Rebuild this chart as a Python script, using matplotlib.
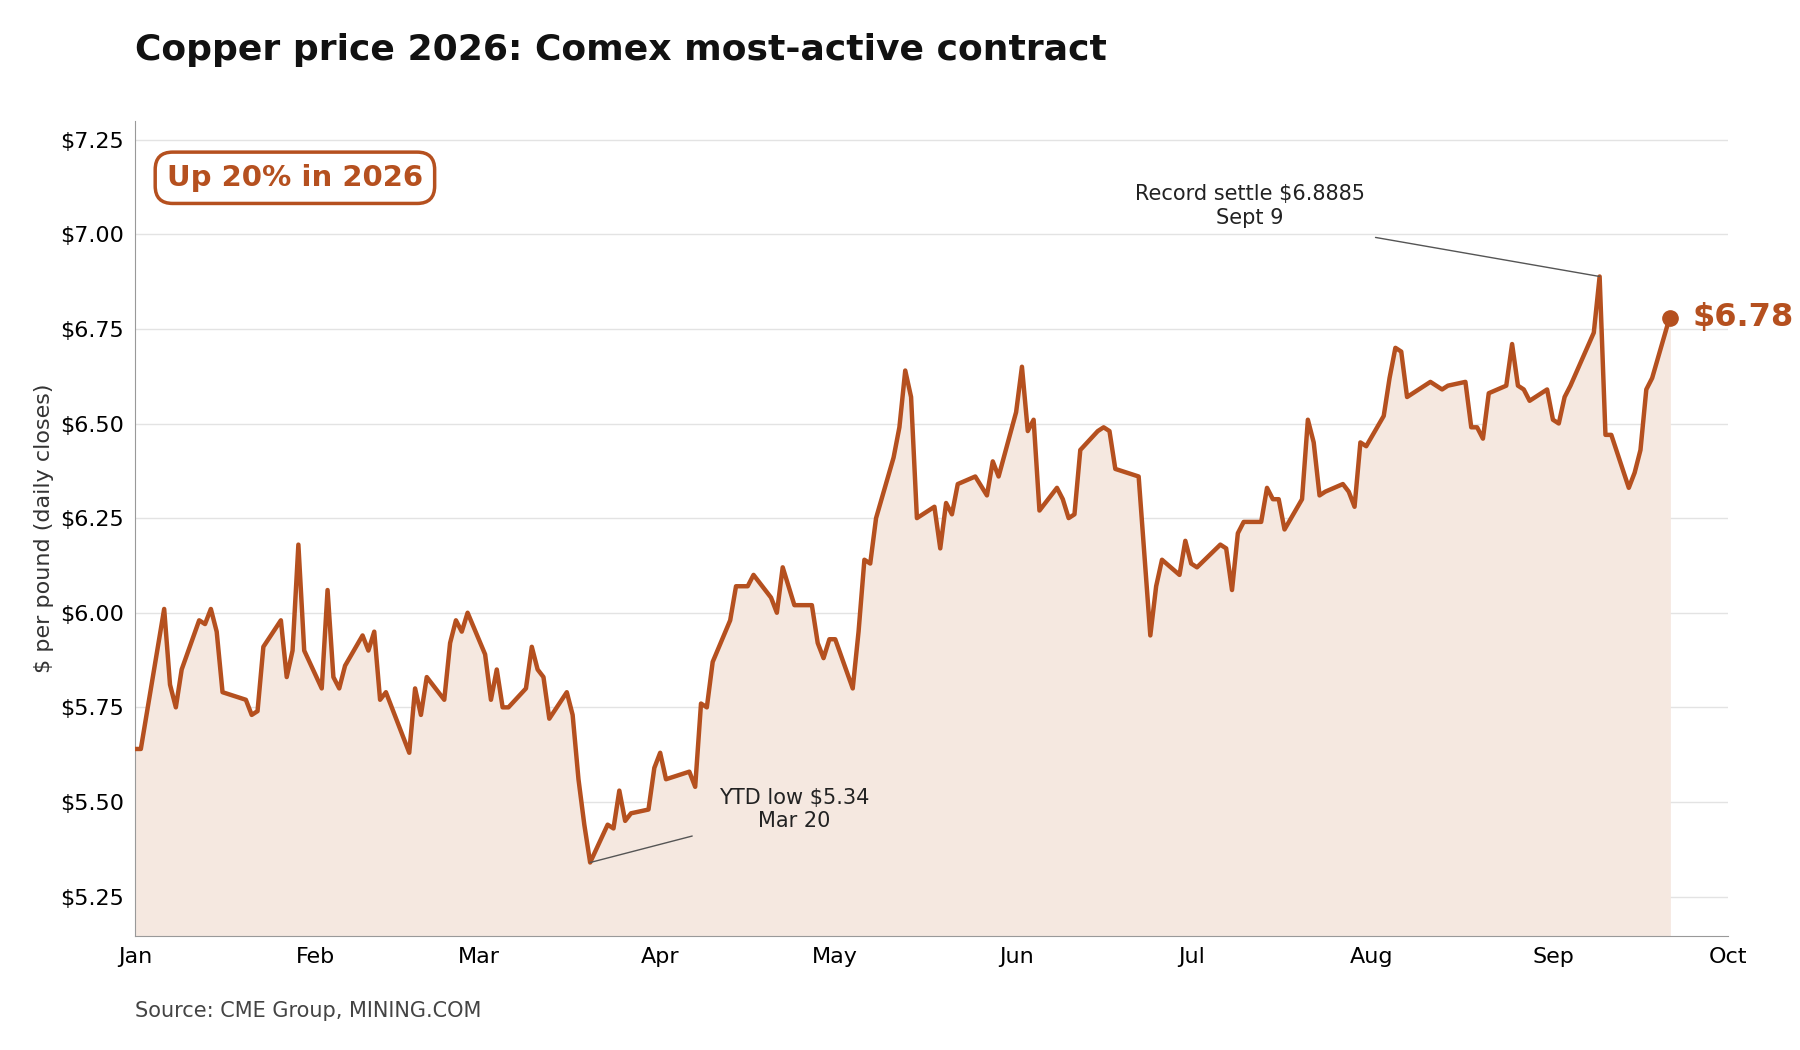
import numpy as np
import matplotlib
matplotlib.use("Agg")
import matplotlib.pyplot as plt
import matplotlib.dates as mdates

day_offsets = [0,1,5,6,7,8,11,12,13,14,15,19,20,21,22,25,26,27,28,29,32,33,34,35,36,39,40,41,42,43,
               47,48,49,50,53,54,55,56,57,60,61,62,63,64,67,68,69,70,71,74,75,76,77,78,81,82,83,84,85,
               88,89,90,91,95,96,97,98,99,102,103,105,106,109,110,111,112,113,116,117,118,119,120,123,
               124,125,126,127,130,131,132,133,134,137,138,139,140,141,144,146,147,148,151,152,153,154,
               155,158,159,160,161,162,165,166,167,168,172,174,175,176,179,180,181,182,186,187,188,189,
               190,193,194,195,196,197,200,201,202,203,204,207,208,209,210,211,214,215,216,217,218,221,
               222,223,224,225,228,229,230,231,232,235,236,237,238,239,242,243,244,245,246,250,251,252,
               253,256,257,258,259,260,263]
prices = [5.64,5.64,6.01,5.81,5.75,5.85,5.98,5.97,6.01,5.95,5.79,5.77,5.73,5.74,5.91,5.98,5.83,5.90,6.18,5.90,
          5.80,6.06,5.83,5.80,5.86,5.94,5.90,5.95,5.77,5.79,
          5.63,5.80,5.73,5.83,5.77,5.92,5.98,5.95,6.00,5.89,5.77,5.85,5.75,5.75,5.80,5.91,5.85,5.83,5.72,5.79,
          5.73,5.56,5.44,5.34,5.44,5.43,5.53,5.45,5.47,
          5.48,5.59,5.63,5.56,5.58,5.54,5.76,5.75,5.87,5.98,6.07,6.07,6.10,6.04,6.00,6.12,6.07,6.02,6.02,5.92,
          5.88,5.93,5.93,5.80,
          5.95,6.14,6.13,6.25,6.41,6.49,6.64,6.57,6.25,6.28,6.17,6.29,6.26,6.34,6.36,6.31,6.40,6.36,6.53,6.65,
          6.48,6.51,
          6.27,6.33,6.30,6.25,6.26,6.43,6.48,6.49,6.48,6.38,6.36,5.94,6.07,6.14,6.10,6.19,6.13,6.12,6.18,6.17,
          6.06,6.21,
          6.24,6.24,6.33,6.30,6.30,6.22,6.30,6.51,6.45,6.31,6.32,6.34,6.32,6.28,6.45,6.44,6.52,6.62,6.70,6.69,
          6.57,6.60,
          6.61,6.60,6.59,6.60,6.61,6.49,6.49,6.46,6.58,6.60,6.71,6.60,6.59,6.56,6.59,6.51,6.50,6.57,6.60,6.74,
          6.8885,6.47,
          6.47,6.33,6.37,6.43,6.59,6.62,6.78]
month_labels = ["Jan","Feb","Mar","Apr","May","Jun","Jul","Aug","Sep","Oct"]

base = np.datetime64("2026-01-01")
dates = (base + np.array(day_offsets, dtype="timedelta64[D]")).astype("datetime64[ms]").astype(object)

C = "#B5501F"
fig = plt.figure(figsize=(18, 10.5), dpi=100)
ax = fig.add_axes([0.075, 0.109, 0.885, 0.776])
ax.fill_between(dates, prices, 5.0, color="#F5E8E0", zorder=1)
ax.plot(dates, prices, color=C, lw=3.2, zorder=3)
ax.plot(dates[-1], prices[-1], "o", color=C, ms=11, zorder=4, clip_on=False)
ax.text(dates[-1] + np.timedelta64(4, "D").astype(object), prices[-1], "$6.78", color=C,
        fontsize=23, fontweight="bold", va="center", ha="left", clip_on=False)

months = [np.datetime64(f"2026-{m:02d}-01").astype("datetime64[ms]").astype(object) for m in range(1, 11)]
ax.set_xticks(months)
ax.set_xticklabels(month_labels)
ax.set_xlim(months[0], months[-1])
ax.set_ylim(5.147, 7.30)
ax.set_yticks([5.25, 5.5, 5.75, 6.0, 6.25, 6.5, 6.75, 7.0, 7.25])
ax.yaxis.set_major_formatter(plt.FuncFormatter(lambda v, p: f"${v:.2f}"))
ax.tick_params(labelsize=16, length=0, pad=8)
ax.grid(axis="y", color="#e3e3e3", lw=1)
ax.set_axisbelow(True)
for s in ["top", "right"]:
    ax.spines[s].set_visible(False)
for s in ["left", "bottom"]:
    ax.spines[s].set_color("#999999")
ax.set_ylabel("$ per pound (daily closes)", fontsize=16, color="#333333")

i_low = int(np.argmin(prices))
ax.annotate("YTD low $5.34\nMar 20", xy=(dates[i_low], prices[i_low]),
            xytext=(np.datetime64("2026-04-24").astype("datetime64[ms]").astype(object), 5.48),
            fontsize=15, ha="center", va="center", color="#222222",
            arrowprops=dict(arrowstyle="-", color="#555555", lw=1, shrinkA=18, shrinkB=0))
i_hi = int(np.argmax(prices))
ax.annotate("Record settle $6.8885\nSept 9", xy=(dates[i_hi], prices[i_hi]),
            xytext=(np.datetime64("2026-07-11").astype("datetime64[ms]").astype(object), 7.075),
            fontsize=15, ha="center", va="center", color="#222222",
            arrowprops=dict(arrowstyle="-", color="#555555", lw=1, shrinkA=30, shrinkB=0,
                            relpos=(0.8, 0.0)))

ax.text(0.02, 0.93, "Up 20% in 2026", transform=ax.transAxes, fontsize=21, fontweight="bold",
        color=C, ha="left", va="center",
        bbox=dict(boxstyle="round,pad=0.4,rounding_size=0.6", fc="white", ec=C, lw=2.5))

fig.text(0.075, 0.952, "Copper price 2026: Comex most-active contract", fontsize=26,
         fontweight="bold", color="#111111", ha="left", va="center")
fig.text(0.075, 0.037, "Source: CME Group, MINING.COM", fontsize=15, color="#444444",
         ha="left", va="center")
fig.savefig("out.png", dpi=100)
